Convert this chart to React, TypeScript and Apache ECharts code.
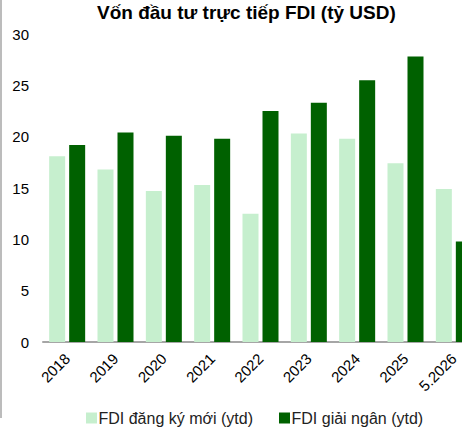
import React, { useEffect, useRef } from "react";
import * as echarts from "echarts";

const categories = ["2018", "2019", "2020", "2021", "2022", "2023", "2024", "2025", "5.2026"];
const registered = [18.1, 16.8, 14.7, 15.3, 12.5, 20.3, 19.8, 17.4, 14.9];
const disbursed = [19.2, 20.4, 20.1, 19.8, 22.5, 23.3, 25.5, 27.8, 9.8];
const seriesNames = ["FDI đăng ký mới (ytd)", "FDI giải ngân (ytd)"];
const titleText = "Vốn đầu tư trực tiếp FDI (tỷ USD)";

const FONT = "'Liberation Sans', Arial, sans-serif";

export default function App() {
  const ref = useRef<HTMLDivElement>(null);
  useEffect(() => {
    if (!ref.current) return;
    const chart = echarts.init(ref.current, undefined, { renderer: "svg" });
    chart.setOption({
      animation: false,
      backgroundColor: "#ffffff",
      title: {
        text: titleText,
        left: 97,
        top: 3,
        padding: 0,
        textStyle: { fontFamily: FONT, fontSize: 19, fontWeight: "bold", color: "#000" },
      },
      legend: {
        left: 86,
        top: 410,
        padding: 0,
        itemWidth: 11,
        itemHeight: 11,
        itemGap: 26,
        icon: "rect",
        textStyle: { fontFamily: FONT, fontSize: 16, color: "#222", padding: [0, 0, 0, -3.5] },
        data: seriesNames,
      },
      grid: { left: 43, right: 0, top: 34, bottom: 88, containLabel: false },
      xAxis: {
        type: "category",
        data: categories,
        axisLine: { lineStyle: { color: "#a6a6a6", width: 2 } },
        axisTick: { show: false },
        axisLabel: { rotate: 45, fontFamily: FONT, fontSize: 15, color: "#000", margin: 14, interval: 0 },
      },
      yAxis: {
        type: "value",
        min: 0,
        max: 30,
        interval: 5,
        splitLine: { show: false },
        axisLine: { show: false },
        axisTick: { show: false },
        axisLabel: { fontFamily: FONT, fontSize: 15, color: "#000", margin: 14 },
      },
      graphic: [
        {
          type: "line",
          shape: { x1: 1, y1: 0, x2: 1, y2: 418 },
          style: { stroke: "#a6a6a6", lineWidth: 1.5 },
        },
      ],
      series: [
        {
          name: seriesNames[0],
          type: "bar",
          data: registered,
          barWidth: 16,
          barGap: "25%",
          itemStyle: { color: "#c6efce" },
        },
        {
          name: seriesNames[1],
          type: "bar",
          data: disbursed,
          barWidth: 16,
          barGap: "25%",
          itemStyle: { color: "#006100" },
        },
      ],
    });
    return () => chart.dispose();
  }, []);
  return (
    <div style={{ position: "fixed", left: 0, top: 0, width: 462, height: 430, overflow: "hidden" }}>
      <div ref={ref} style={{ position: "absolute", left: 0, top: 0, width: 478, height: 430 }} />
    </div>
  );
}
